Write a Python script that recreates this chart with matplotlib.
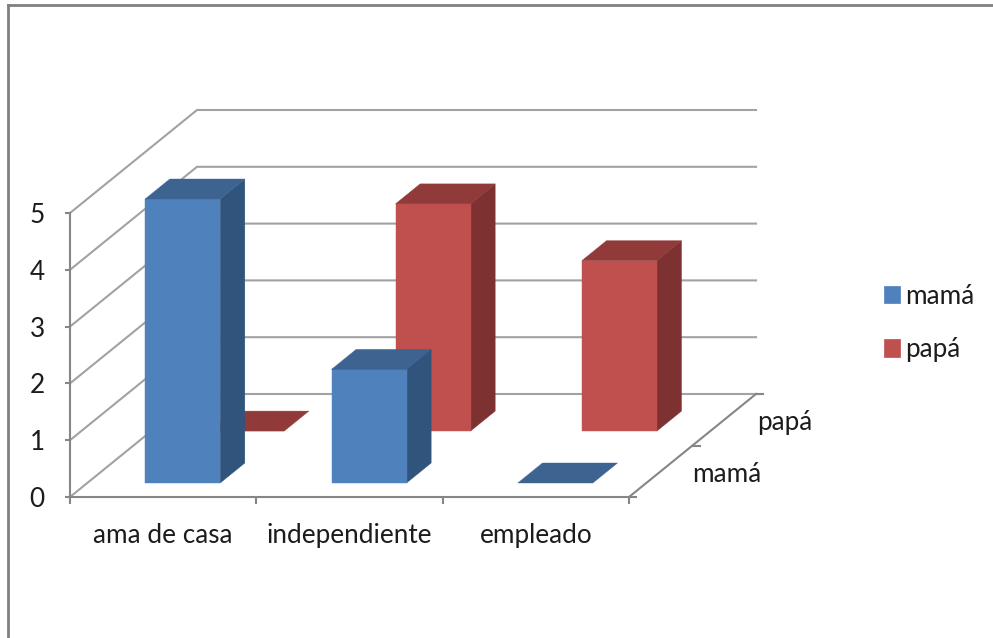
import matplotlib
matplotlib.use("Agg")
import matplotlib.pyplot as plt
from matplotlib.patches import Polygon, Patch
from matplotlib.lines import Line2D

categories = ["ama de casa", "independiente", "empleado"]
series_names = ["mamá", "papá"]
mama_values = [5, 2, 0]
papa_values = [0, 4, 3]
value_ticks = [0, 1, 2, 3, 4, 5]

W, H = 993, 638
AX_L, AX_R, AX_T, AX_B = 70, 629, 213, 497
DX = 127 / ((AX_R - AX_L) / 3)      # category units per full depth
DY = 103 / ((AX_B - AX_T) / 5)      # value units per full depth
BAR_W = 0.4025
BAR_D = 0.194
ROW_FRONT = [0.136, 0.64]
CAT_SHIFT = 0.012
GRID = "#a2a2a2"
AXIS = "#868686"
TEXT = "#1c1c1c"
FS = 18.8

COLORS = {
    "mamá": ("#4f81bd", "#31547c", "#3d6491"),
    "papá": ("#c0504d", "#7d3130", "#903b39"),
}

plt.rcParams["font.family"] = ["Lato", "DejaVu Sans"]
fig = plt.figure(figsize=(W / 100, H / 100), dpi=100, facecolor="white")
ax = fig.add_axes([AX_L / W, 1 - AX_B / H, (AX_R - AX_L) / W, (AX_B - AX_T) / H])
ax.set_xlim(0, 3)
ax.set_ylim(0, 5)
ax.patch.set_visible(False)


def proj(c, d, v):
    return c + d * DX, v + d * DY


# walls: gridlines on side and back wall
for v in value_ticks:
    pts = [proj(0, 0, v), proj(0, 1, v), proj(3, 1, v)]
    ax.plot(*zip(*pts), color=GRID, lw=1.5, clip_on=False, zorder=1, solid_joinstyle="miter")

# floor right edge, with its ticks
ax.plot(*zip(proj(3, 0, 0), proj(3, 1, 0)), color=AXIS, lw=1.5, clip_on=False, zorder=2)
for d in (0, 0.5, 1):
    x0, y0 = proj(3, d, 0)
    ax.plot([x0, x0 + 0.04], [y0, y0], color=AXIS, lw=1.5, clip_on=False, zorder=2)


def draw_bar(i, row, value, name):
    front, side, top = COLORS[name]
    c0 = i + 0.5 + CAT_SHIFT - BAR_W / 2
    c1 = c0 + BAR_W
    d0 = ROW_FRONT[row]
    d1 = d0 + BAR_D
    z = 3 + (1 - row)
    kw = dict(clip_on=False, zorder=z, linewidth=0.3)
    if value > 0:
        ax.add_patch(Polygon([proj(c1, d0, 0), proj(c1, d1, 0), proj(c1, d1, value), proj(c1, d0, value)],
                             facecolor=side, edgecolor=side, **kw))
        ax.add_patch(Polygon([proj(c0, d0, 0), proj(c1, d0, 0), proj(c1, d0, value), proj(c0, d0, value)],
                             facecolor=front, edgecolor=front, **kw))
    ax.add_patch(Polygon([proj(c0, d0, value), proj(c1, d0, value), proj(c1, d1, value), proj(c0, d1, value)],
                         facecolor=top, edgecolor=top, **kw))


for row, (name, vals) in reversed(list(enumerate(zip(series_names, [mama_values, papa_values])))):
    for i, v in enumerate(vals):
        draw_bar(i, row, v, name)

# axes
for s in ("top", "right"):
    ax.spines[s].set_visible(False)
for s in ("left", "bottom"):
    ax.spines[s].set_color(AXIS)
    ax.spines[s].set_linewidth(1.5)
ax.set_yticks(value_ticks)
ax.set_xticks(range(4))
ax.set_xticklabels([])
ax.set_xticks([i + 0.5 for i in range(3)], labels=categories, minor=True)
ax.tick_params(axis="y", length=3.6, width=1.5, color=AXIS, labelsize=FS, labelcolor=TEXT, pad=14.5)
ax.tick_params(axis="x", which="major", length=5, width=1.5, color=AXIS)
ax.tick_params(axis="x", which="minor", length=0, labelsize=FS, labelcolor=TEXT, pad=19)

# depth axis labels
for row, name in enumerate(series_names):
    ax.annotate(name, xy=proj(3, ROW_FRONT[row] + BAR_D / 2, 0), xytext=(24.5, -1),
                textcoords="offset points", ha="left", va="center",
                fontsize=FS, color=TEXT, annotation_clip=False)

# legend
handles = [Patch(facecolor=COLORS[n][0], edgecolor=COLORS[n][0], lw=0.5, label=n) for n in series_names]
leg = fig.legend(handles=handles, loc="center left", bbox_to_anchor=(884 / W, 1 - 323 / H),
                 frameon=False, fontsize=FS, labelcolor=TEXT, handlelength=0.6, handleheight=0.65,
                 handletextpad=0.2, labelspacing=1.1, borderpad=0, borderaxespad=0)

# outer frame: only top and left edges fall inside the picture
fig.add_artist(Line2D([7.5 / W, 1], [1 - 4.5 / H, 1 - 4.5 / H], color="#808080", lw=2))
fig.add_artist(Line2D([7.5 / W, 7.5 / W], [0, 1 - 4.5 / H], color="#808080", lw=2))

fig.savefig("out.png", dpi=100, facecolor="white")
